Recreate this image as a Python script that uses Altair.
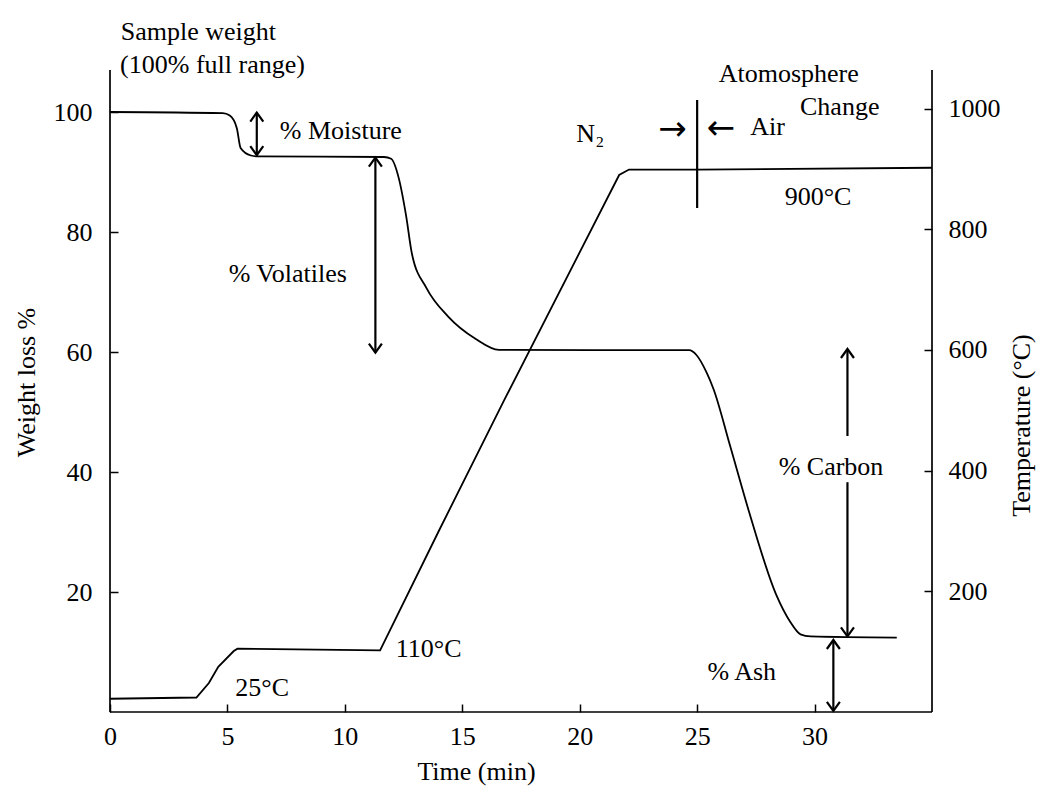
import altair as alt
import pandas as pd

# ---------------- data ----------------
weight_time = [0, 4.8, 5.1, 5.4, 5.56, 6.0, 6.3, 11.67, 11.97, 12.3, 12.6, 12.86, 13.47,
               14.4, 15.56, 16.56, 24.66, 24.97, 25.4, 25.7, 26.4, 27.2, 28.36, 28.96,
               29.4, 29.83, 33.5]
weight_pct = [100.0, 99.8, 99.4, 97.3, 94.0, 92.75, 92.6, 92.5, 92.2, 88.9, 82.9, 76.3, 70.7,
              65.9, 62.2, 60.35, 60.3, 59.5, 56.6, 53.8, 44.4, 33.5, 19.6, 15.05,
              12.95, 12.6, 12.4]

temp_time = [0, 3.68, 4.21, 4.61, 5.27, 5.43, 11.5, 14.0, 16.8, 21.68, 22.1, 24.99, 35.0]
temp_c = [22, 24, 48, 75, 101, 105, 102, 300, 518, 890, 899, 899, 902]

x_ticks = [0, 5, 10, 15, 20, 25, 30]
w_ticks = [20, 40, 60, 80, 100]
c_ticks = [200, 400, 600, 800, 1000]

# arrow shafts (time, from %, to %)
shaft_time = [6.25, 11.3, 31.4, 31.4, 30.8, 25.0]
shaft_from = [92.8, 59.9, 46.0, 12.6, 0.2, 84.0]
shaft_to = [99.9, 92.4, 60.5, 38.3, 12.0, 102.0]

# arrow heads
head_time = [6.25, 6.25, 11.3, 11.3, 31.4, 31.4, 30.8, 30.8]
head_pct = [99.9, 92.8, 92.4, 59.9, 60.5, 12.6, 12.0, 0.2]
head_dir = ["up", "down", "up", "down", "up", "down", "up", "down"]

# centred annotations
lab_c_text = ["% Volatiles", "N\u2082", "Air", "Atomosphere", "Change", "900°C",
              "110°C", "25°C", "% Carbon", "% Ash"]
lab_c_time = [7.57, 20.45, 28.0, 28.9, 31.07, 30.15, 13.57, 6.48, 30.7, 26.9]
lab_c_pct = [73.0, 96.4, 97.5, 106.4, 100.9, 85.9, 10.5, 4.0, 40.9, 6.7]

# left-aligned annotations
lab_l_text = ["Sample weight", "(100% full range)", "% Moisture"]
lab_l_time = [0.46, 0.43, 7.23]
lab_l_pct = [113.3, 107.9, 96.8]

# gas-flow arrows
flow_text = ["\u2192", "\u2190"]
flow_time = [23.95, 26.0]
flow_pct = [97.0, 97.2]

# ---------------- layout ----------------
W, H = 822, 642
FONT = "Liberation Serif"
INK = "black"
FS = 26

xs = alt.Scale(domain=[0, 35], nice=False, zero=False)
ws = alt.Scale(domain=[0, 107], nice=False)
cs = alt.Scale(domain=[0, 1064], nice=False)

common = dict(domain=False, grid=False, tickSize=8, offset=-8, tickColor=INK, tickWidth=1.5,
              labelFont=FONT, labelFontSize=FS, labelColor=INK, labelFlush=False,
              titleFont=FONT, titleFontSize=FS, titleFontWeight="normal", titleColor=INK,
              titleBaseline="middle", titleAlign="center")

xaxis = alt.Axis(values=x_ticks, title="Time (min)", labelPadding=11, format="d",
                 titleX=366, titleY=67, titleAngle=0, **common)
waxis = alt.Axis(orient="left", values=w_ticks, title="Weight loss %", labelPadding=18,
                 format="d", titleX=-92, titleY=312, titleAngle=270, **common)
caxis = alt.Axis(orient="right", values=c_ticks, title="Temperature (°C)", labelPadding=16,
                 format="d", titleX=97, titleY=355, titleAngle=270, **common)

X = alt.X("t:Q", scale=xs, axis=xaxis)
Yw = alt.Y("w:Q", scale=ws, axis=waxis)

weight_df = pd.DataFrame({"t": weight_time, "w": weight_pct})
temp_df = pd.DataFrame({"t": temp_time, "c": temp_c})
shaft_df = pd.DataFrame({"t": shaft_time, "w": shaft_from, "w2": shaft_to})
paths = {"up": "M-1.3,1.8L0,0L1.3,1.8", "down": "M-1.3,-1.8L0,0L1.3,-1.8"}
head_df = pd.DataFrame({"t": head_time, "w": head_pct,
                        "shape": [paths[d] for d in head_dir]})
labc_df = pd.DataFrame({"t": lab_c_time, "w": lab_c_pct, "label": lab_c_text})
labl_df = pd.DataFrame({"t": lab_l_time, "w": lab_l_pct, "label": lab_l_text})
flow_df = pd.DataFrame({"t": flow_time, "w": flow_pct, "label": flow_text})

frame = alt.Chart(pd.DataFrame({"k": [0]})).mark_rule(color=INK, strokeWidth=1.7)
left_line = frame.encode(x=alt.value(0), y=alt.value(0), y2=alt.value(H))
bottom_line = frame.encode(x=alt.value(0), x2=alt.value(W), y=alt.value(H))
right_line = frame.encode(x=alt.value(W), y=alt.value(0), y2=alt.value(H))

weight_line = alt.Chart(weight_df).mark_line(
    color=INK, strokeWidth=1.8, interpolate="monotone").encode(x=X, y=Yw)

shafts = alt.Chart(shaft_df).mark_rule(color=INK, strokeWidth=2.2).encode(
    x=X, y=Yw, y2=alt.Y2("w2:Q"))

heads = alt.Chart(head_df).mark_point(
    filled=False, color=INK, strokeWidth=2.2, size=100, opacity=1).encode(
    x=X, y=Yw, shape=alt.Shape("shape:N", scale=None))

text_c = alt.Chart(labc_df).mark_text(
    font=FONT, fontSize=FS, color=INK, align="center", baseline="middle").encode(
    x=X, y=Yw, text="label:N")

text_l = alt.Chart(labl_df).mark_text(
    font=FONT, fontSize=FS, color=INK, align="left", baseline="middle").encode(
    x=X, y=Yw, text="label:N")

flow = alt.Chart(flow_df).mark_text(
    font="DejaVu Sans", fontSize=34, color=INK, align="center", baseline="middle").encode(
    x=X, y=Yw, text="label:N")

weight_group = alt.layer(left_line, bottom_line, right_line, weight_line, shafts, heads,
                         text_c, text_l, flow)

temp_line = alt.Chart(temp_df).mark_line(
    color=INK, strokeWidth=1.8, interpolate="linear").encode(
    x=X, y=alt.Y("c:Q", scale=cs, axis=caxis))

chart = alt.layer(weight_group, temp_line).resolve_scale(y="independent").properties(
    width=W, height=H,
    autosize=alt.AutoSizeParams(type="none"),
    padding={"left": 110, "top": 70, "right": 108, "bottom": 80},
    background="white",
).configure_view(stroke=None)

chart.save("out.html", embed_options={"renderer": "svg", "actions": False})
